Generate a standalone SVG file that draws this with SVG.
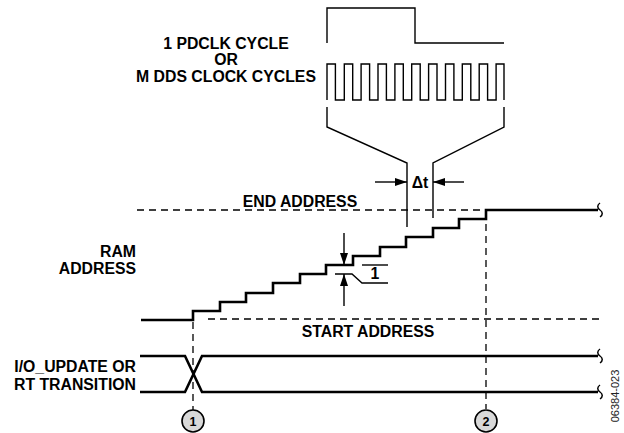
<svg xmlns="http://www.w3.org/2000/svg" width="624" height="433" viewBox="0 0 624 433">
<defs>
<style>
.t{font-family:"Liberation Sans",Arial,sans-serif;font-weight:bold;font-size:15.8px;fill:#000}
.thin{fill:none;stroke:#000;stroke-width:1.4}
.thick{fill:none;stroke:#000;stroke-width:2.6}
.dash{fill:none;stroke:#000;stroke-width:1.3;stroke-dasharray:7 5}
.brk{fill:none;stroke:#000;stroke-width:1.5}
.circ{fill:#d9d9d9;stroke:#000;stroke-width:1.6}
.cn{font-family:"Liberation Sans",Arial,sans-serif;font-weight:bold;font-size:12.5px;fill:#000}
</style>
<marker id="ah" markerUnits="userSpaceOnUse" markerWidth="13" markerHeight="9" refX="12" refY="4" orient="auto">
<path d="M0,0 L12,4 L0,8 z" fill="#000"/>
</marker>
</defs>
<rect width="624" height="433" fill="#fff"/>

<g id="clock-label">
<text class="t" x="226" y="49" text-anchor="middle">1 PDCLK CYCLE</text>
<text class="t" x="226" y="65" text-anchor="middle">OR</text>
<text class="t" x="226" y="82" text-anchor="middle">M DDS CLOCK CYCLES</text>
</g>

<g id="pdclk">
<path class="thin" d="M327,43 V8 H415 V43 H504"/>
</g>

<g id="ddsclk">
<path class="thin" d="M327,100 V64 H335.4 V100 H344.3 V64 H352.7 V100 H361.1 V64 H369.6 V100 H378 V64 H386.4 V100 H394.9 V64 H403.3 V100 H411.7 V64 H420.2 V100 H428.6 V64 H437 V100 H445.5 V64 H453.9 V100 H462.3 V64 H470.8 V100 H479.2 V64 H487.6 V100 H496.1 V64 H504 V100"/>
</g>

<g id="zoom-lines">
<path class="thin" d="M327,107 V127 L407,163 V227"/>
<path class="thin" d="M504,107 V127 L433,163 V218"/>
</g>

<g id="delta-t">
<line class="thin" x1="375" y1="182" x2="407" y2="182" marker-end="url(#ah)"/>
<line class="thin" x1="464" y1="182" x2="433" y2="182" marker-end="url(#ah)"/>
<text class="t" x="420" y="188" text-anchor="middle">Δt</text>
</g>

<g id="address-lines">
<line class="dash" x1="137" y1="210" x2="486" y2="210"/>
<text class="t" x="300" y="207" text-anchor="middle">END ADDRESS</text>
<line class="dash" x1="208" y1="319" x2="600" y2="319"/>
<text class="t" x="368" y="337" text-anchor="middle">START ADDRESS</text>
</g>

<g id="ram-label">
<text class="t" x="136" y="257" text-anchor="end">RAM</text>
<text class="t" x="136" y="274" text-anchor="end">ADDRESS</text>
</g>

<g id="ram-staircase">
<path class="thick" d="M141,320 H193 V311 H220 V302 H246 V293 H273 V283 H300 V274 H326 V265 H353 V256 H380 V247 H406 V237 H433 V228 H459 V219 H486 V210 H598"/>
<path class="brk" d="M600,203 c -3,2 -3,5 0,7 c 3,2 3,5 0,7"/>
</g>

<g id="step-marker">
<line class="thin" x1="344" y1="233" x2="344" y2="265" marker-end="url(#ah)"/>
<line class="thin" x1="344" y1="306" x2="344" y2="274" marker-end="url(#ah)"/>
<path class="thin" d="M335,274 H352 L362,283 H388"/>
<line class="thin" x1="362" y1="265" x2="388" y2="265"/>
<text class="t" x="375" y="279" text-anchor="middle">1</text>
</g>

<g id="io-update">
<text class="t" x="136" y="372" text-anchor="end">I/O_UPDATE OR</text>
<text class="t" x="136" y="390" text-anchor="end">RT TRANSITION</text>
<path class="thick" d="M140,356 H185 L202,392 H598"/>
<path class="thick" d="M140,392 H185 L202,356 H598"/>
<path class="brk" d="M600,349 c -3,2 -3,5 0,7 c 3,2 3,5 0,7"/>
<path class="brk" d="M600,385 c -3,2 -3,5 0,7 c 3,2 3,5 0,7"/>
</g>

<g id="markers">
<line class="dash" x1="193" y1="322" x2="193" y2="410"/>
<line class="dash" x1="486" y1="212" x2="486" y2="409"/>
<circle class="circ" cx="193" cy="421" r="11"/>
<text class="cn" x="193" y="425.5" text-anchor="middle">1</text>
<circle class="circ" cx="486" cy="421" r="11"/>
<text class="cn" x="486" y="425.5" text-anchor="middle">2</text>
</g>

<text x="623" y="400" transform="rotate(-90 619 400)" font-family="'Liberation Sans',Arial,sans-serif" font-size="11" fill="#222" text-anchor="middle">06384-023</text>
</svg>
